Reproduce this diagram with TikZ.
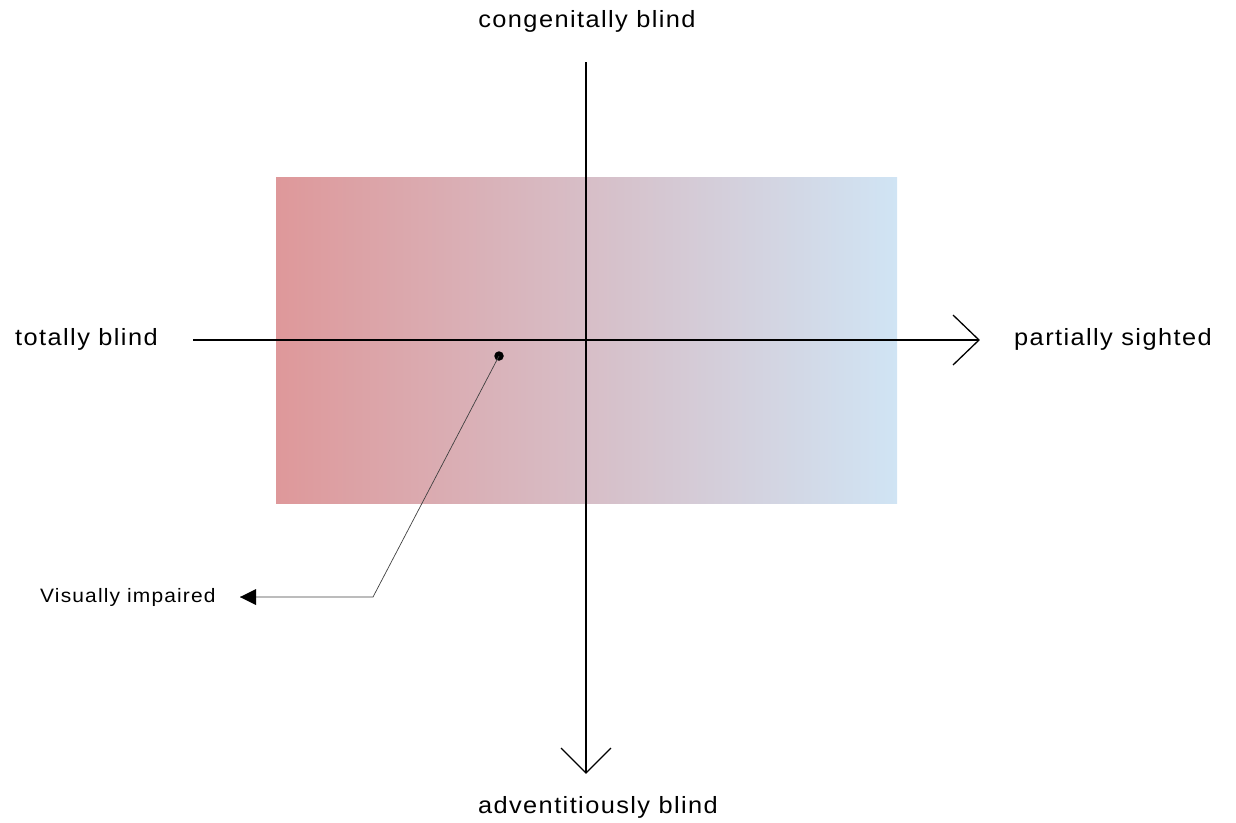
\documentclass[tikz,border=0pt]{standalone}
\usepackage{fontspec}
\setmainfont{Liberation Sans}
\newfontfamily\spacedsans[FakeStretch=1.08,LetterSpace=6]{Liberation Sans}
\usetikzlibrary{arrows.meta}
\definecolor{blindred}{RGB}{222,152,154}
\definecolor{sightblue}{RGB}{208,228,244}
\begin{document}
\begin{tikzpicture}[x=1pt,y=-1pt,
  axis/.style={line width=1.5pt,black},
  chevron/.style={line width=1.3pt,black},
  axislabel/.style={font=\spacedsans\fontsize{23.5}{28}\selectfont,inner sep=0pt},
  leader/.style={line width=0.7pt,black!75},
  smalllabel/.style={font=\spacedsans\fontsize{19.4}{23}\selectfont,inner sep=0pt}]
\useasboundingbox (0,0) rectangle (1236,822);
% spectrum band from totally blind to partially sighted
\shade[left color=blindred,right color=sightblue] (276,177) rectangle (897,503);
% axes
\coordinate (hstart) at (193,340);
\coordinate (hend) at (979,340);
\coordinate (vstart) at (586,62);
\coordinate (vend) at (586,773);
\draw[axis] (hstart) -- (hend);
\draw[axis] (vstart) -- (vend);
% open arrowheads
\draw[chevron] (953,315) -- (hend) -- (953,365);
\draw[chevron] (561,748) -- (vend) -- (611,748);
% axis labels
\node[axislabel,anchor=west] (tb) at (15,339) {totally blind};
\node[axislabel,anchor=west] (ps) at (1014,339) {partially sighted};
\node[axislabel] (cb) at (587,21) {congenitally blind};
\node[axislabel] (ab) at (598,807) {adventitiously blind};
% visually impaired point with leader
\node[circle,fill=black,inner sep=0pt,minimum size=9.5pt] (pt) at (499,356) {};
\node[smalllabel,anchor=west] (vi) at (40,597) {Visually impaired};
\coordinate (bend) at (373,597);
\coordinate (tip) at (240,597);
\draw[leader] (pt.center) -- (bend) -- (tip);
\fill[black] (tip) -- (256,589) -- (256,605) -- cycle;
\end{tikzpicture}
\end{document}
